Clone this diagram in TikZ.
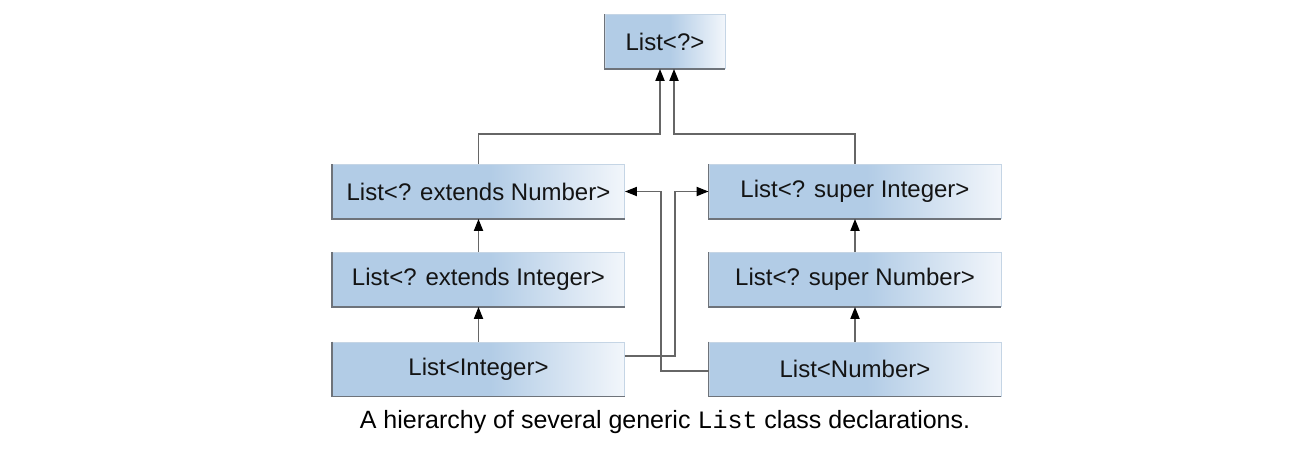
\documentclass[tikz,border=0pt]{standalone}
\usepackage{fontspec}
\setmainfont{Liberation Sans}
\setmonofont{Liberation Mono}
\usetikzlibrary{arrows.meta}
\definecolor{boxblue}{HTML}{B2CCE6}
\definecolor{boxlight}{HTML}{F2F6FB}
\definecolor{boxborder}{HTML}{C5D5E5}
\definecolor{edgegray}{HTML}{6E737A}
\definecolor{linegray}{HTML}{666666}
\pgfdeclarehorizontalshading{clsshade}{100bp}{color(0bp)=(boxblue); color(25bp)=(boxblue); color(52bp)=(boxblue); color(75bp)=(boxlight); color(100bp)=(boxlight)}
\tikzset{
  cls/.style={shade, shading=clsshade, draw=boxborder, line width=0.8pt, minimum height=54pt,
    text=black!92, font=\fontsize{24}{28}\selectfont, inner sep=0pt},
  wide/.style={cls, minimum width=292pt},
  conn/.style={draw=linegray, line width=1.8pt},
  arr/.style={conn, -{Triangle[length=12pt,width=9pt,color=black]}},
  darkedge/.style={draw=edgegray, line width=1.3pt},
}
\begin{document}
\begin{tikzpicture}[x=1pt,y=-1pt]
\fill[white] (0,0) rectangle (1296,452);
\useasboundingbox (0,0) rectangle (1296,452);
\node[cls, minimum width=120pt] (top) at (665,41.5) {List<?>};
\node[wide] (len) at (478.5,191.5) {List<? extends Number>};
\node[wide] (lei) at (478.5,279.5) {List<? extends Integer>};
\node[wide] (li) at (478.5,369) {List<Integer>};
\node[wide] (lsi) at (855,191.5) {List<? super Integer>};
\node[wide] (lsn) at (855,279.5) {List<? super Number>};
\node[wide] (ln) at (855,369) {List<Number>};
\foreach \n in {top,len,lei,li,lsi,lsn,ln}
  \draw[darkedge] (\n.north west) -- (\n.south west) -- (\n.south east);
\coordinate (jl) at (660,134);
\coordinate (jr) at (674,134);
\coordinate (a) at (661,371);
\coordinate (b) at (675,356);
\draw[arr] (len.north) |- (jl) -- (jl |- top.south);
\draw[arr] (lsi.north) |- (jr) -- (jr |- top.south);
\draw[arr] (lei.north) -- (len.south);
\draw[arr] (li.north) -- (lei.south);
\draw[arr] (lsn.north) -- (lsi.south);
\draw[arr] (ln.north) -- (lsn.south);
\draw[arr] (ln.west |- a) -- (a) |- (len.east);
\draw[arr] (li.east |- b) -- (b) |- (lsi.west);
\node[font=\fontsize{25}{30}\selectfont, text=black] (cap) at (665,422)
  {A hierarchy of several generic \texttt{List} class declarations.};
\end{tikzpicture}
\end{document}
